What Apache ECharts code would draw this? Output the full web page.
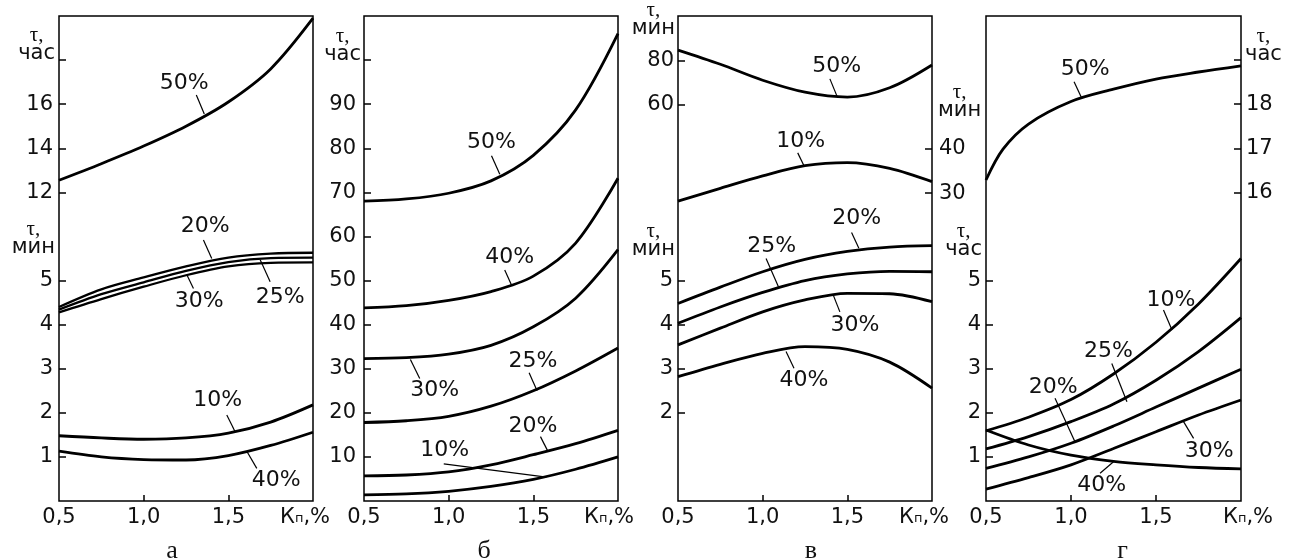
<!DOCTYPE html>
<html><head><meta charset="utf-8">
<script src="https://cdn.jsdelivr.net/npm/echarts@6/dist/echarts.min.js"></script>
<style>html,body{margin:0;padding:0;background:#fff}#c{width:1289px;height:560px}</style>
</head><body><div id="c"></div>
<script>
// ---------- shared x values & tick labels ----------
const X = [0.5, 0.75, 1.0, 1.25, 1.5, 1.75, 2.0];
const X_D50 = [0.5, 0.6, 0.75, 1.0, 1.25, 1.5, 1.75, 2.0];
const xLabelValues = [0.5, 1.0, 1.5, 2.0];
const xTickLabels = ['0,5', '1,0', '1,5'];
const xTickMarks = [1.0, 1.5];
const panelLetters = ['а', 'б', 'в', 'г'];

// ---------- panel а ----------
const a50 = [12.55, 13.3, 14.1, 15.0, 16.1, 17.6, 19.9];     // τ, час
const a20 = [4.40, 4.80, 5.07, 5.32, 5.52, 5.61, 5.63];      // τ, мин
const a25 = [4.34, 4.69, 4.96, 5.22, 5.42, 5.51, 5.52];
const a30 = [4.28, 4.58, 4.86, 5.12, 5.32, 5.40, 5.41];
const a10 = [1.48, 1.43, 1.40, 1.43, 1.54, 1.79, 2.18];
const a40 = [1.13, 1.0, 0.94, 0.93, 1.03, 1.26, 1.56];
const aHourTicks = [12, 14, 16, 18], aHourLabels = [12, 14, 16];
const aMinTicks = [1, 2, 3, 4, 5], aMinLabels = [1, 2, 3, 4, 5];

// ---------- panel б ----------
const b50 = [68, 68.5, 69.8, 72.6, 78.4, 88.7, 106];
const b40 = [43.8, 44.3, 45.5, 47.5, 51, 58.5, 73.2];
const b30 = [32.3, 32.5, 33.3, 35.3, 39.5, 46, 57];
const b25 = [17.8, 18.2, 19.2, 21.5, 25, 29.5, 34.7];
const b20 = [5.7, 5.9, 6.6, 8.2, 10.5, 13, 16];
const b10 = [1.4, 1.6, 2.2, 3.3, 4.9, 7.2, 10];
const bTicks = [10, 20, 30, 40, 50, 60, 70, 80, 90, 100], bLabels = [10, 20, 30, 40, 50, 60, 70, 80, 90];

// ---------- panel в ----------
const c50 = [84.6, 78.2, 71, 65.6, 63.4, 67.6, 77.9];      // left upper, мин
const c10 = [28.2, 31.1, 33.9, 36.2, 36.9, 35.6, 32.6];    // right upper, мин
const c20 = [4.48, 4.85, 5.2, 5.48, 5.66, 5.76, 5.79];     // left lower, мин
const c25 = [4.03, 4.4, 4.73, 5.0, 5.15, 5.21, 5.2];
const c30 = [3.54, 3.92, 4.29, 4.56, 4.71, 4.70, 4.52];
const c40 = [2.82, 3.1, 3.35, 3.5, 3.44, 3.15, 2.56];
const cULTicks = [60, 80], cURTicks = [30, 40], cLTicks = [2, 3, 4, 5];

// ---------- panel г ----------
const d50 = [16.28, 16.98, 17.55, 18.06, 18.34, 18.57, 18.73, 18.87]; // right upper, час
const d10 = [1.59, 1.9, 2.3, 2.88, 3.6, 4.47, 5.5];                  // left lower, час
const d25 = [1.18, 1.46, 1.8, 2.2, 2.74, 3.39, 4.16];
const d20 = [0.74, 1.0, 1.31, 1.7, 2.13, 2.56, 2.99];
const d30 = [0.27, 0.53, 0.82, 1.19, 1.57, 1.95, 2.29];
const d40 = [1.61, 1.27, 1.04, 0.9, 0.82, 0.76, 0.73];
const dUTicks = [16, 17, 18, 19], dULabels = [16, 17, 18];
const dLTicks = [1, 2, 3, 4, 5];

// ---------- curve label annotations (data coords: text centre, leader from -> to) ----------
const ann = {
  a50: [1.239, 16.95, 1.311, 16.42, 1.358, 15.55],
  a20: [1.363, 6.24, 1.353, 5.92, 1.402, 5.50],
  a30: [1.328, 4.54, 1.294, 4.82, 1.255, 5.13],
  a25: [1.806, 4.63, 1.747, 4.97, 1.688, 5.47],
  a10: [1.437, 2.29, 1.491, 1.95, 1.540, 1.57],
  a40: [1.783, 0.46, 1.668, 0.74, 1.609, 1.13],
  b50: [1.253, 81.3, 1.253, 78.3, 1.302, 74.1],
  b40: [1.361, 55.2, 1.331, 52.4, 1.371, 49.0],
  b30: [0.918, 25.2, 0.829, 27.8, 0.774, 32.1],
  b25: [1.498, 31.8, 1.475, 29.1, 1.522, 25.0],
  b20: [1.498, 17.05, 1.542, 14.6, 1.587, 11.2],
  b10: [0.977, 11.6, 0.971, 8.4, 1.577, 5.4],
  c50: [1.437, 77.1, 1.397, 71.6, 1.44, 63.6],
  c10: [1.225, 41.8, 1.207, 39.1, 1.244, 36.2],
  c20: [1.555, 6.41, 1.525, 6.09, 1.568, 5.73],
  c25: [1.054, 5.77, 1.02, 5.5, 1.093, 4.86],
  c30: [1.545, 3.99, 1.456, 4.29, 1.417, 4.67],
  c40: [1.244, 2.74, 1.185, 3.01, 1.138, 3.39],
  d50: [1.083, 18.79, 1.018, 18.51, 1.064, 18.13],
  d10: [1.588, 4.56, 1.544, 4.33, 1.594, 3.88],
  d25: [1.22, 3.39, 1.24, 3.12, 1.329, 2.25],
  d20: [0.896, 2.59, 0.906, 2.33, 1.024, 1.34],
  d30: [1.813, 1.12, 1.721, 1.42, 1.662, 1.80],
  d40: [1.181, 0.36, 1.171, 0.63, 1.25, 0.89]
};

const FONT = 'DejaVu Sans';
const INK = '#111';

function nameRich() {
  return {
    t: {fontFamily: 'Liberation Serif', fontSize: 21, lineHeight: 16, align: 'center', color: INK},
    u: {fontFamily: FONT, fontSize: 21, lineHeight: 22, align: 'center', color: INK}
  };
}

function xAxisFor(gi, letter, kShift, letterPad) {
  const rich = {
    s: {fontFamily: FONT, fontSize: 13, color: INK, verticalAlign: 'bottom', padding: [0, 0, 3, 0]},
    kl: {fontFamily: FONT, fontSize: 21, color: INK, padding: kShift > 0 ? [0, 0, 0, 2 * kShift] : 0},
    kr: {fontFamily: FONT, fontSize: 21, color: INK, padding: kShift < 0 ? [0, -2 * kShift, 0, 0] : 0}
  };
  return {
    type: 'value', gridIndex: gi, min: 0.5, max: 2.0, interval: 0.5,
    axisLine: {show: false, onZero: false}, splitLine: {show: false},
    axisTick: {show: true, inside: true, length: 6, customValues: xTickMarks, lineStyle: {color: '#000', width: 1.5}},
    axisLabel: {
      show: true, customValues: xLabelValues, margin: 6, color: INK, fontFamily: FONT, fontSize: 21,
      showMinLabel: true, showMaxLabel: true, hideOverlap: false,
      formatter: function (v) {
        const i = xLabelValues.findIndex(t => Math.abs(t - v) < 1e-6);
        if (i === 3) return '{kl|К}{s|п}{kr|,%}';
        return xTickLabels[i];
      },
      rich: rich
    },
    name: letter, nameLocation: 'middle', nameGap: 37,
    nameTextStyle: {fontFamily: 'Liberation Serif', fontSize: 26, color: INK, padding: letterPad}
  };
}

function yAxisFor(gi, pos, min, max, ticks, labels, unit, nameGap, namePad, margin) {
  return {
    type: 'value', gridIndex: gi, position: pos, min: min, max: max,
    axisLine: {show: false, onZero: false}, splitLine: {show: false},
    axisTick: {show: ticks.length > 0, inside: true, length: 7, customValues: ticks, lineStyle: {color: '#000', width: 1.5}},
    axisLabel: {show: labels.length > 0, customValues: labels, margin: margin, color: INK, fontFamily: FONT, fontSize: 21,
      showMinLabel: true, showMaxLabel: true},
    name: unit ? '{t|τ,}\n{u|' + unit + '}' : '',
    nameLocation: 'end', nameGap: nameGap,
    nameTextStyle: {align: pos === 'left' ? 'right' : 'left', verticalAlign: 'bottom', padding: namePad, rich: nameRich()}
  };
}

function curve(key, name, xs, ys, xi, yi, width) {
  const a = ann[key];
  return {
    type: 'line', name: name, xAxisIndex: xi, yAxisIndex: yi,
    data: xs.map((x, i) => [x, ys[i]]),
    smooth: 0.33, symbol: 'none', silent: true, animation: false,
    lineStyle: {color: '#000', width: width || 2.8},
    markPoint: {
      symbol: 'circle', symbolSize: 1, itemStyle: {color: 'rgba(0,0,0,0)'}, silent: true, animation: false,
      label: {show: true, position: 'inside', formatter: '{b}', color: INK, fontFamily: FONT, fontSize: 22},
      data: [{name: name, coord: [a[0], a[1]]}]
    },
    markLine: {
      symbol: ['none', 'none'], silent: true, animation: false, label: {show: false},
      lineStyle: {color: '#000', width: 1.2, type: 'solid'},
      emphasis: {disabled: true},
      data: [[{coord: [a[2], a[3]]}, {coord: [a[4], a[5]]}]]
    }
  };
}

const gridBase = {top: 16, height: 485, show: true, borderColor: '#000', borderWidth: 1.5,
  backgroundColor: 'transparent', containLabel: false, outerBoundsMode: 'none'};

const option = {
  animation: false,
  backgroundColor: '#fff',
  grid: [
    Object.assign({left: 59, width: 254}, gridBase),
    Object.assign({left: 364, width: 254}, gridBase),
    Object.assign({left: 678, width: 254}, gridBase),
    Object.assign({left: 986, width: 255}, gridBase)
  ],
  xAxis: [
    xAxisFor(0, panelLetters[0], -8, [0, 28, 0, 0]),
    xAxisFor(1, panelLetters[1], -9, [0, 14, 0, 0]),
    xAxisFor(2, panelLetters[2], -8, [0, 0, 0, 12]),
    xAxisFor(3, panelLetters[3], 7, [0, 0, 0, 18])
  ],
  yAxis: [
    yAxisFor(0, 'left', -2, 20, aHourTicks, aHourLabels, 'час', -49, [0, 4, 0, 0], 6),      // 0
    yAxisFor(0, 'left', 0, 11, aMinTicks, aMinLabels, 'мин', -243, [0, 4, 0, 0], 6),        // 1
    yAxisFor(1, 'left', 0, 110, bTicks, bLabels, 'час', -50, [0, 3, 0, 0], 8),              // 2
    yAxisFor(2, 'left', -119, 100, cULTicks, cULTicks, 'мин', -24, [0, 3, 0, 0], 4),        // 3
    yAxisFor(2, 'right', -39.5, 70, cURTicks, cURTicks, 'мин', -106, [0, 0, 0, 6], 7),      // 4
    yAxisFor(2, 'left', 0, 11, cLTicks, cLTicks, 'мин', -245, [0, 3, 0, 0], 5),             // 5
    yAxisFor(3, 'right', 9, 20, dUTicks, dULabels, 'час', -50, [0, 0, 0, 4], 5),            // 6
    yAxisFor(3, 'left', 0, 11, dLTicks, dLTicks, 'час', -245, [0, 4, 0, 0], 5)              // 7
  ],
  series: [
    curve('a50', '50%', X, a50, 0, 0),
    curve('a20', '20%', X, a20, 0, 1, 2.3),
    curve('a25', '25%', X, a25, 0, 1, 2.3),
    curve('a30', '30%', X, a30, 0, 1, 2.3),
    curve('a10', '10%', X, a10, 0, 1),
    curve('a40', '40%', X, a40, 0, 1),

    curve('b50', '50%', X, b50, 1, 2),
    curve('b40', '40%', X, b40, 1, 2),
    curve('b30', '30%', X, b30, 1, 2),
    curve('b25', '25%', X, b25, 1, 2),
    curve('b20', '20%', X, b20, 1, 2),
    curve('b10', '10%', X, b10, 1, 2),

    curve('c50', '50%', X, c50, 2, 3),
    curve('c10', '10%', X, c10, 2, 4),
    curve('c20', '20%', X, c20, 2, 5),
    curve('c25', '25%', X, c25, 2, 5),
    curve('c30', '30%', X, c30, 2, 5),
    curve('c40', '40%', X, c40, 2, 5),

    curve('d50', '50%', X_D50, d50, 3, 6),
    curve('d10', '10%', X, d10, 3, 7),
    curve('d25', '25%', X, d25, 3, 7),
    curve('d20', '20%', X, d20, 3, 7),
    curve('d30', '30%', X, d30, 3, 7),
    curve('d40', '40%', X, d40, 3, 7)
  ]
};

const chart = echarts.init(document.getElementById('c'), null, {renderer: 'canvas'});
chart.setOption(option);
</script>
</body></html>
